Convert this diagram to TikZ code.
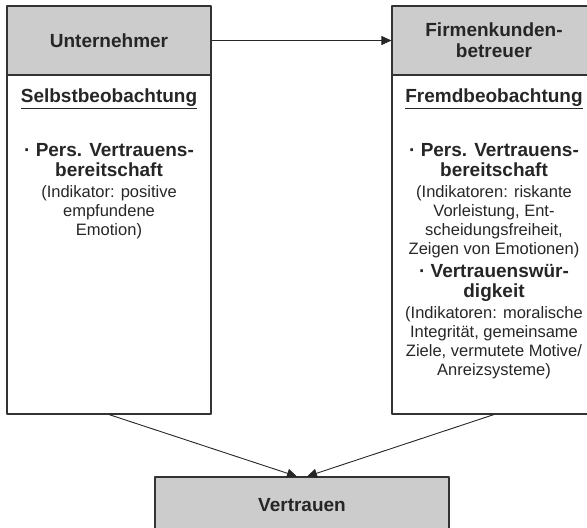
\documentclass[tikz,border=0pt]{standalone}
\usepackage{fontspec}
\setmainfont{Liberation Sans}
\usetikzlibrary{arrows.meta}
\tikzset{
  box/.style={draw=black!80, line width=1.1pt, inner sep=0pt, minimum width=204pt},
  headbox/.style={box, fill=black!20, minimum height=69pt, align=center, text=black!85,
    font=\fontsize{19}{21}\selectfont\bfseries},
  bodybox/.style={box, minimum height=339pt},
  bigtext/.style={font=\fontsize{19}{19.5}\selectfont\bfseries, align=center, inner sep=0pt, text=black!85},
  smalltext/.style={font=\fontsize{16.5}{19}\selectfont, align=center, inner sep=0pt, text=black!85},
  arr/.style={-{Triangle[length=10pt,width=9pt]}, line width=0.9pt, draw=black!85},
}
\begin{document}
\begin{tikzpicture}[x=1pt, y=-1pt, line cap=round, line join=round]
  \useasboundingbox (0,0) rectangle (587,528);
  \clip (0,0) rectangle (587,528);
  % left column: Unternehmer
  \node[headbox] (unt) at (109,40.5) {Unternehmer};
  \node[bodybox] (selbst) at (109,244.5) {};
  \node[bigtext] (selbsth) at (109,99) {\underline{Selbstbeobachtung}};
  \node[bigtext] (selbsta) at (109,160) {· Pers. Vertrauens-\\bereitschaft};
  \node[smalltext] (selbstb) at (109,212) {(Indikator: positive\\empfundene\\Emotion)};
  % right column: Firmenkundenbetreuer
  \node[headbox] (firm) at (494,40.5) {Firmenkunden-\\betreuer};
  \node[bodybox] (fremd) at (494,244.5) {};
  \node[bigtext] (fremdh) at (494,99) {\underline{Fremdbeobachtung}};
  \node[bigtext] (fremda) at (494,160) {· Pers. Vertrauens-\\bereitschaft};
  \node[smalltext] (fremdb) at (494,221.5) {(Indikatoren: riskante\\Vorleistung, Ent-\\scheidungsfreiheit,\\Zeigen von Emotionen)};
  \node[bigtext] (fremdc) at (494,283) {· Vertrauenswür-\\digkeit};
  \node[smalltext] (fremdd) at (494,343) {(Indikatoren: moralische\\Integrität, gemeinsame\\Ziele, vermutete Motive/\\Anreizsysteme)};
  % result
  \node[headbox, minimum width=294pt, minimum height=56pt] (vert) at (302,505) {Vertrauen};
  % connectors
  \draw[arr] (unt.east) -- (firm.west);
  \draw[arr] (selbst.south) -- ([xshift=-5pt]vert.north);
  \draw[arr] (fremd.south) -- ([xshift=5pt]vert.north);
\end{tikzpicture}
\end{document}
